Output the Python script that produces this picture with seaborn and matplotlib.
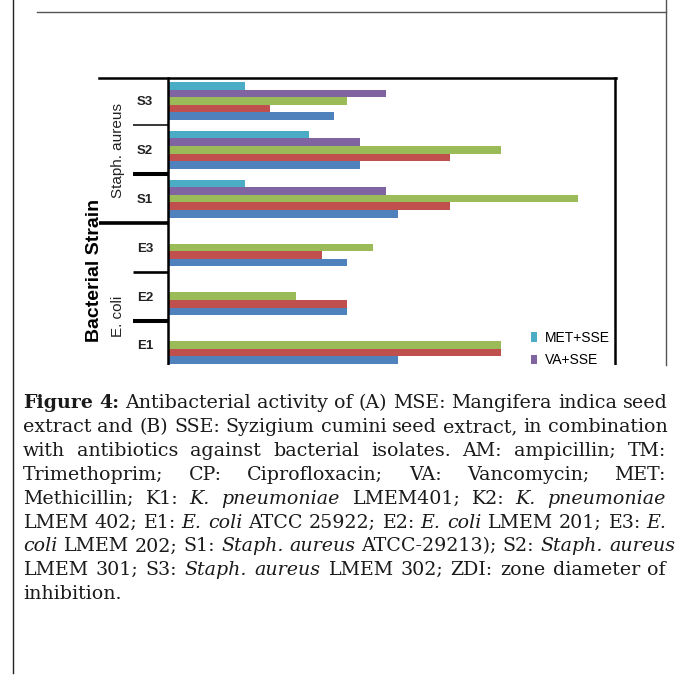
import numpy as np
import pandas as pd
import matplotlib
matplotlib.use("Agg")
import matplotlib.pyplot as plt
import matplotlib.transforms as mtransforms
from matplotlib.lines import Line2D
from matplotlib.patches import Rectangle, Patch
import seaborn as sns

# ---------------- data ----------------
strains = ["S3", "S2", "S1", "E3", "E2", "E1"]
treatments = ["MET+SSE", "VA+SSE", "CP+SSE", "TM+SSE", "AM+SSE"]  # top -> bottom in each group
colors = ["#4bacc6", "#8064a2", "#9bbb59", "#c0504d", "#4f81bd"]
am_sse = [13, 15, 18, 14, 14, 18]
tm_sse = [8, 22, 22, 12, 14, 26]
cp_sse = [14, 26, 32, 16, 10, 26]
va_sse = [17, 15, 17, np.nan, np.nan, np.nan]
met_sse = [6, 11, 6, np.nan, np.nan, np.nan]
group_labels = ["Staph. aureus", "E. coli"]
axis_title = "Bacterial Strain"
visible_legend = ["MET+SSE", "VA+SSE"]  # the rest of the legend is cropped off

caption_lines = [
    "^Figure ^4: Antibacterial activity of (A) MSE: Mangifera indica seed",
    "extract and (B) SSE: Syzigium cumini seed extract, in combination",
    "with antibiotics against bacterial isolates. AM: ampicillin; TM:",
    "Trimethoprim; CP: Ciprofloxacin; VA: Vancomycin; MET:",
    "Methicillin; K1: _K. _pneumoniae LMEM401; K2: _K. _pneumoniae",
    "LMEM 402; E1: _E. _coli ATCC 25922; E2: _E. _coli LMEM 201; E3: _E.",
    "_coli LMEM 202; S1: _Staph. _aureus ATCC-29213); S2: _Staph. _aureus",
    "LMEM 301; S3: _Staph. _aureus LMEM 302; ZDI: zone diameter of",
    "inhibition.",
]

series = {"MET+SSE": met_sse, "VA+SSE": va_sse, "CP+SSE": cp_sse,
          "TM+SSE": tm_sse, "AM+SSE": am_sse}
rows = []
for tr, vals in series.items():
    for s, v in zip(strains, vals):
        rows.append({"Strain": s, "Treatment": tr, "ZDI": v})
df = pd.DataFrame(rows)

# ---------------- figure ----------------
W, H = 677, 675
fig = plt.figure(figsize=(W / 100, H / 100), dpi=100)
fig.patch.set_facecolor("white")


def fx(x):
    return x / W


def fy(y):
    return 1 - y / H


ax = fig.add_axes([fx(168), fy(365), fx(615) - fx(168), fy(78) - fy(365)])
sns.barplot(data=df, x="ZDI", y="Strain", hue="Treatment", order=strains,
            hue_order=treatments, palette=colors, orient="h", width=0.78,
            errorbar=None, legend=False, saturation=1, linewidth=0, ax=ax)
ax.set_xlim(0, 447 / 12.8)
ax.set_ylim(5.41, -0.471)
for side in ["top", "right", "bottom"]:
    ax.spines[side].set_visible(False)
ax.spines["left"].set_linewidth(1.8)
ax.spines["left"].set_color("black")
ax.set_xticks([])
ax.set_xlabel("")
ax.set_ylabel("")
ax.tick_params(axis="y", length=0, pad=10.8)
for lab in ax.get_yticklabels():
    lab.set_fontfamily("Liberation Sans")
    lab.set_fontweight("bold")
    lab.set_fontsize(9.5)
    lab.set_color("#222222")
ax.set_facecolor("white")

# group separators on the category axis
trans = mtransforms.blended_transform_factory(ax.transAxes, ax.transData)
sep_start = [-0.078, -0.078, -0.154, -0.078, -0.078]
sep_lw = [1.1, 2.9, 2.6, 1.9, 2.9]
for i, (xs, lw) in enumerate(zip(sep_start, sep_lw)):
    ax.add_line(Line2D([xs, 0], [i + 0.5, i + 0.5], transform=trans,
                       color="black", lw=lw, clip_on=False, solid_capstyle="butt"))

# group labels (rotated)
fig.text(fx(118), fy(150), group_labels[0], rotation=90, ha="center", va="center",
         fontsize=11, family="Liberation Sans", color="#222222")
fig.text(fx(118), fy(316), group_labels[1], rotation=90, ha="center", va="center",
         fontsize=11, family="Liberation Sans", color="#222222")
fig.text(fx(95), fy(270), axis_title, rotation=90, ha="center", va="center",
         fontsize=14, family="Liberation Sans", fontweight="bold", color="black")

# chart area frame
fig.add_artist(Line2D([fx(99), fx(616)], [fy(78), fy(78)], color="black", lw=1.8))
fig.add_artist(Line2D([fx(615), fx(615)], [fy(78), fy(366)], color="black", lw=1.8))

# legend (only the top entries are inside the cropped picture)
handles = [Patch(facecolor=colors[treatments.index(t)], edgecolor="none") for t in visible_legend]
fig.legend(handles, visible_legend, loc="upper left", bbox_to_anchor=(fx(531), fy(331)),
           frameon=False, borderpad=0, borderaxespad=0,
           prop={"family": "Liberation Sans", "size": 10},
           handlelength=0.4, handleheight=0.7, handletextpad=0.6, labelspacing=0.6)

# white area below the cropped chart
fig.add_artist(Rectangle((fx(14), 0), 1 - fx(14), fy(365), transform=fig.transFigure,
                         facecolor="white", edgecolor="none", zorder=10))

# page borders
fig.add_artist(Line2D([fx(13), fx(13)], [1, fy(673)], color="#222222", lw=1.0, zorder=20))
fig.add_artist(Line2D([fx(37), fx(666)], [fy(12), fy(12)], color="#555555", lw=1.0, zorder=20))
fig.add_artist(Line2D([fx(666), fx(666)], [1, fy(365)], color="#555555", lw=1.0, zorder=20))

# caption, justified
renderer = fig.canvas.get_renderer()
left_px, right_px = 23, 666
base0, step = 408, 23.9


def make_words(line, size, y):
    texts, widths = [], []
    for w in line.split(" "):
        weight, style = "normal", "normal"
        if w.startswith("^"):
            w = w[1:]
            weight = "bold"
        elif w.startswith("_"):
            w = w[1:]
            style = "italic"
        t = fig.text(0, y, w, fontsize=size, family="DejaVu Serif",
                     fontweight=weight, fontstyle=style, va="baseline", ha="left",
                     color="#1a1a1a", zorder=21)
        widths.append(t.get_window_extent(renderer).width)
        texts.append(t)
    return texts, widths


# fit the font so the first line fills the measure with normal spacing
probe_size = 12.0
tt, ww = make_words(caption_lines[0], probe_size, 0.5)
probe_nat = sum(ww) + 0.318 * probe_size * 100 / 72 * (len(ww) - 1)
for t in tt:
    t.remove()
cap_size = probe_size * (right_px - left_px) / probe_nat * 0.995
space_px = 0.318 * cap_size * 100 / 72

for li, line in enumerate(caption_lines):
    y = fy(base0 + step * li)
    texts, widths = make_words(line, cap_size, y)
    n = len(texts)
    natural = sum(widths) + space_px * (n - 1)
    last = li == len(caption_lines) - 1
    if not last and n > 1 and natural < right_px - left_px:
        gap = (right_px - left_px - sum(widths)) / (n - 1)
    else:
        gap = space_px
    x = left_px
    for t, wdt in zip(texts, widths):
        t.set_x(x / W)
        x += wdt + gap

fig.savefig("out.png", dpi=100, facecolor="white")
